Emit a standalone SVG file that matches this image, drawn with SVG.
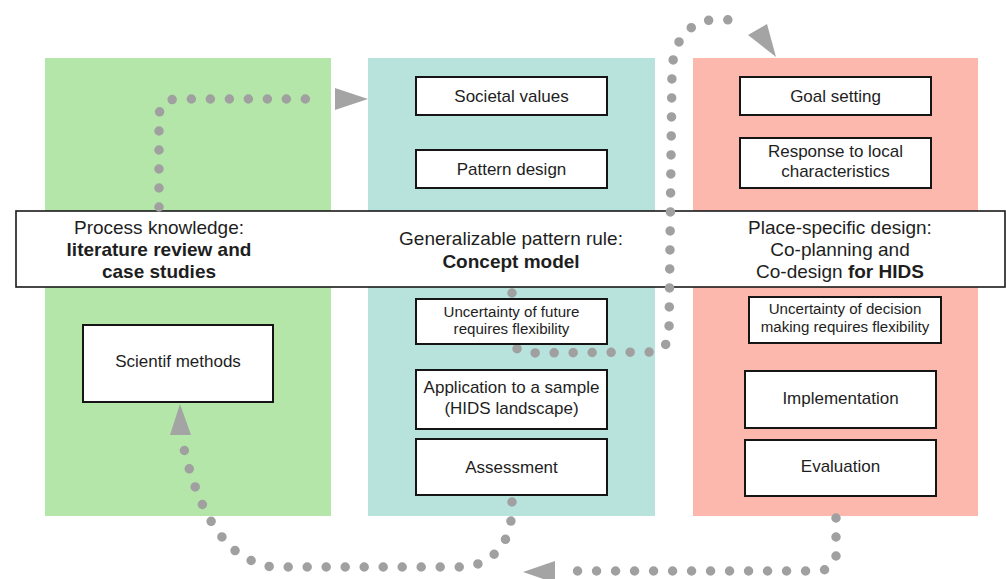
<svg xmlns="http://www.w3.org/2000/svg" width="1006" height="579" viewBox="0 0 1006 579">
  <style>
    .panel { stroke: none; }
    .box { fill: #ffffff; stroke: #151515; stroke-width: 2; }
    .band { fill: #ffffff; stroke: #1a1a1a; stroke-width: 1.6; }
    text { font-family: "Liberation Sans", Arial, sans-serif; fill: #1e1e1e; text-anchor: middle; }
    .t { font-size: 17px; }
    .s { font-size: 15.1px; }
    .big { font-size: 19px; }
    .b { font-weight: bold; }
    .dots { fill: none; stroke: #a0a0a0; stroke-width: 9.5; stroke-linecap: round; stroke-dasharray: 0 19; }
    .head { fill: #a4a4a4; }
  </style>

  <rect width="1006" height="579" fill="#ffffff"/>

  <!-- three column panels -->
  <g id="panel-process">
    <rect class="panel" x="45" y="58" width="286" height="458" fill="#b3e6a8"/>
  </g>
  <g id="panel-concept">
    <rect class="panel" x="368" y="58" width="287" height="458" fill="#b8e2dc"/>
  </g>
  <g id="panel-place">
    <rect class="panel" x="693" y="58" width="285" height="458" fill="#fdb8ad"/>
  </g>

  <!-- wide heading band across the columns -->
  <g id="band">
    <rect class="band" x="16" y="211" width="989" height="76"/>
    <text class="big" x="159" y="234">Process knowledge:</text>
    <text class="big b" x="159" y="256">literature review and</text>
    <text class="big b" x="159" y="278">case studies</text>
    <text class="big" x="511" y="245">Generalizable pattern rule:</text>
    <text class="big b" x="511" y="268">Concept model</text>
    <text class="big" x="840" y="234">Place-specific design:</text>
    <text class="big" x="840" y="256">Co-planning and</text>
    <text class="big" x="840" y="278">Co-design <tspan class="b">for HIDS</tspan></text>
  </g>

  <!-- dotted flow connectors -->
  <g id="connectors">
    <path class="dots" d="M159 207 L159 118 Q159 99 178 99 L318 99"/>
    <polygon class="head" points="335,88 368,99 335,110"/>

    <path class="dots" d="M512 293 L512 338 Q514 353 531 353 L652 352 Q668 350 669 333 L672 70 Q675 22 718 19 Q733 19 742 26"/>
    <polygon class="head" points="748,35 767,24 776,57"/>

    <path class="dots" d="M512 502 Q513 540 492 556 Q479 567 458 567 L272 567 Q240 561 222 537 Q196 505 182 440"/>
    <polygon class="head" points="170,435 191,435 180,404"/>

    <path class="dots" d="M836 518 L836 556 Q834 571 815 571 L572 571"/>
    <polygon class="head" points="555,561 555,583 523,572"/>
  </g>

  <!-- process knowledge column -->
  <g id="scientif-methods">
    <rect class="box" x="83" y="325" width="190" height="77"/>
    <text class="t" x="178" y="367">Scientif methods</text>
  </g>

  <!-- concept model column -->
  <g id="societal-values">
    <rect class="box" x="416" y="77" width="191" height="38"/>
    <text class="t" x="511.5" y="102">Societal values</text>
  </g>
  <g id="pattern-design">
    <rect class="box" x="416" y="150" width="191" height="38"/>
    <text class="t" x="511.5" y="175">Pattern design</text>
  </g>
  <g id="uncertainty-future">
    <rect class="box" x="416" y="299" width="191" height="45"/>
    <text class="s" x="511.5" y="317">Uncertainty of future</text>
    <text class="s" x="511.5" y="334">requires flexibility</text>
  </g>
  <g id="application">
    <rect class="box" x="416" y="370" width="191" height="59"/>
    <text class="t" x="511.5" y="393">Application to a sample</text>
    <text class="t" x="511.5" y="414">(HIDS landscape)</text>
  </g>
  <g id="assessment">
    <rect class="box" x="416" y="439" width="191" height="56"/>
    <text class="t" x="511.5" y="473">Assessment</text>
  </g>

  <!-- place-specific design column -->
  <g id="goal-setting">
    <rect class="box" x="740" y="77" width="191" height="38"/>
    <text class="t" x="835.5" y="102">Goal setting</text>
  </g>
  <g id="local-response">
    <rect class="box" x="740" y="138" width="191" height="50"/>
    <text class="t" x="835.5" y="157">Response to local</text>
    <text class="t" x="835.5" y="177">characteristics</text>
  </g>
  <g id="uncertainty-decision">
    <rect class="box" x="749" y="297" width="192" height="46"/>
    <text class="s" x="845" y="314">Uncertainty of decision</text>
    <text class="s" x="845" y="332">making requires flexibility</text>
  </g>
  <g id="implementation">
    <rect class="box" x="745" y="371" width="191" height="57"/>
    <text class="t" x="840.5" y="404">Implementation</text>
  </g>
  <g id="evaluation">
    <rect class="box" x="745" y="440" width="191" height="56"/>
    <text class="t" x="840.5" y="472">Evaluation</text>
  </g>
</svg>
